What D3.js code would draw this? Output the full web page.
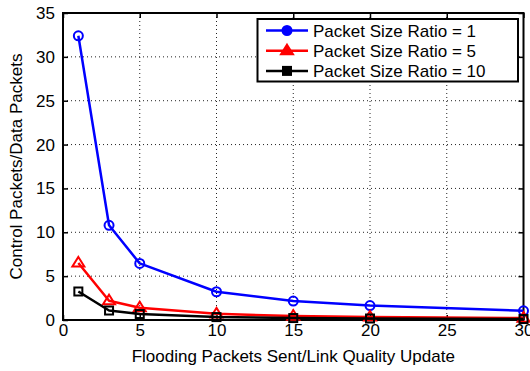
<!DOCTYPE html>
<html>
<head>
<meta charset="utf-8">
<script src="https://cdn.jsdelivr.net/npm/d3@7"></script>
<style>
  body { margin: 0; background: #fff; }
  svg text { font-family: "Liberation Sans", Arial, sans-serif; fill: #000; }
</style>
</head>
<body>
<svg id="chart" width="530" height="371"></svg>
<script>
// Flooding packets sent per link quality update
const xValues = [1, 3, 5, 10, 15, 20, 30];
// Control packets / data packets for each packet size ratio
const ratio1 = [32.4, 10.8, 6.45, 3.22, 2.16, 1.65, 1.05];
const ratio5 = [6.5, 2.2, 1.4, 0.7, 0.45, 0.35, 0.22];
const ratio10 = [3.25, 1.08, 0.68, 0.33, 0.22, 0.17, 0.11];
const seriesNames = ["Packet Size Ratio = 1", "Packet Size Ratio = 5", "Packet Size Ratio = 10"];
const xTicks = [0, 5, 10, 15, 20, 25, 30];
const yTicks = [0, 5, 10, 15, 20, 25, 30, 35];

const series = [
  { name: seriesNames[0], values: ratio1, color: "#0000ff", marker: "circle" },
  { name: seriesNames[1], values: ratio5, color: "#ff0000", marker: "triangle" },
  { name: seriesNames[2], values: ratio10, color: "#000000", marker: "square" }
];

const fontSize = 17;
const svg = d3.select("#chart");
const m = { left: 63, top: 13, right: 523.5, bottom: 320 };
const x = d3.scaleLinear().domain([0, 30]).range([m.left, m.right]);
const y = d3.scaleLinear().domain([0, 35]).range([m.bottom, m.top]);

// dotted grid
const grid = svg.append("g");
grid.selectAll("line.gx").data(xTicks.slice(1, -1)).enter().append("line")
  .attr("x1", d => x(d)).attr("x2", d => x(d))
  .attr("y1", m.top).attr("y2", m.bottom)
  .attr("stroke", "#222").attr("stroke-width", 1).attr("stroke-dasharray", "1,3");
grid.selectAll("line.gy").data(yTicks.slice(1, -1)).enter().append("line")
  .attr("x1", m.left).attr("x2", m.right)
  .attr("y1", d => y(d)).attr("y2", d => y(d))
  .attr("stroke", "#222").attr("stroke-width", 1).attr("stroke-dasharray", "1,3");

// axes with inward ticks
const tickLen = 5;
const xAxis = d3.axisBottom(x).tickValues(xTicks).tickSizeInner(-tickLen).tickSizeOuter(0).tickPadding(4);
const yAxis = d3.axisLeft(y).tickValues(yTicks).tickSizeInner(-tickLen).tickSizeOuter(0).tickPadding(8);
const xTop = d3.axisTop(x).tickValues(xTicks).tickSizeInner(-tickLen).tickSizeOuter(0).tickFormat("");
const yRight = d3.axisRight(y).tickValues(yTicks).tickSizeInner(-tickLen).tickSizeOuter(0).tickFormat("");

function styleAxis(g) {
  g.select(".domain").remove();
  g.selectAll(".tick line").attr("stroke", "#000").attr("stroke-width", 1.5);
  g.selectAll(".tick text").attr("font-size", fontSize).attr("font-family", "Liberation Sans, Arial, sans-serif");
}
svg.append("g").attr("transform", `translate(0,${m.bottom})`).call(xAxis).call(styleAxis);
svg.append("g").attr("transform", `translate(${m.left},0)`).call(yAxis).call(styleAxis);
svg.append("g").attr("transform", `translate(0,${m.top})`).call(xTop).call(styleAxis);
svg.append("g").attr("transform", `translate(${m.right},0)`).call(yRight).call(styleAxis);

// frame
svg.append("rect").attr("x", m.left).attr("y", m.top)
  .attr("width", m.right - m.left).attr("height", m.bottom - m.top)
  .attr("fill", "none").attr("stroke", "#000").attr("stroke-width", 2);

// markers
function drawMarker(g, type, cx, cy, color, filled) {
  const fill = filled ? color : "none";
  if (type === "circle") {
    g.append("circle").attr("cx", cx).attr("cy", cy).attr("r", 4.5)
      .attr("fill", fill).attr("stroke", color).attr("stroke-width", 2);
  } else if (type === "triangle") {
    const s = 6;
    g.append("path").attr("d", `M${cx},${cy - s} L${cx + s},${cy + s * 0.6} L${cx - s},${cy + s * 0.6} Z`)
      .attr("fill", fill).attr("stroke", color).attr("stroke-width", 2).attr("stroke-linejoin", "miter");
  } else {
    const s = 4;
    g.append("rect").attr("x", cx - s).attr("y", cy - s).attr("width", 2 * s).attr("height", 2 * s)
      .attr("fill", fill).attr("stroke", color).attr("stroke-width", 2);
  }
}

const line = d3.line().x((d, i) => x(xValues[i])).y(d => y(d));
const plot = svg.append("g");
series.forEach(s => {
  plot.append("path").datum(s.values).attr("d", line)
    .attr("fill", "none").attr("stroke", s.color).attr("stroke-width", 2.5).attr("stroke-linejoin", "round");
  const mg = plot.append("g");
  s.values.forEach((v, i) => drawMarker(mg, s.marker, x(xValues[i]), y(v), s.color, false));
});

// legend
const lg = svg.append("g");
lg.append("rect").attr("x", 257.5).attr("y", 19).attr("width", 260.5).attr("height", 62.5)
  .attr("fill", "#fff").attr("stroke", "#000").attr("stroke-width", 2);
series.forEach((s, i) => {
  const cy = 30.5 + i * 20.2;
  lg.append("line").attr("x1", 266).attr("x2", 308).attr("y1", cy).attr("y2", cy)
    .attr("stroke", s.color).attr("stroke-width", 2.5);
  drawMarker(lg, s.marker, 287, cy, s.color, true);
  lg.append("text").attr("x", 313).attr("y", cy + 6).attr("font-size", fontSize).text(s.name);
});

// axis titles
svg.append("text").attr("x", x(15)).attr("y", 362).attr("text-anchor", "middle")
  .attr("font-size", fontSize).text("Flooding Packets Sent/Link Quality Update");
svg.append("text").attr("transform", `translate(22,${(m.top + m.bottom) / 2}) rotate(-90)`)
  .attr("text-anchor", "middle").attr("font-size", fontSize).text("Control Packets/Data Packets");
</script>
</body>
</html>
